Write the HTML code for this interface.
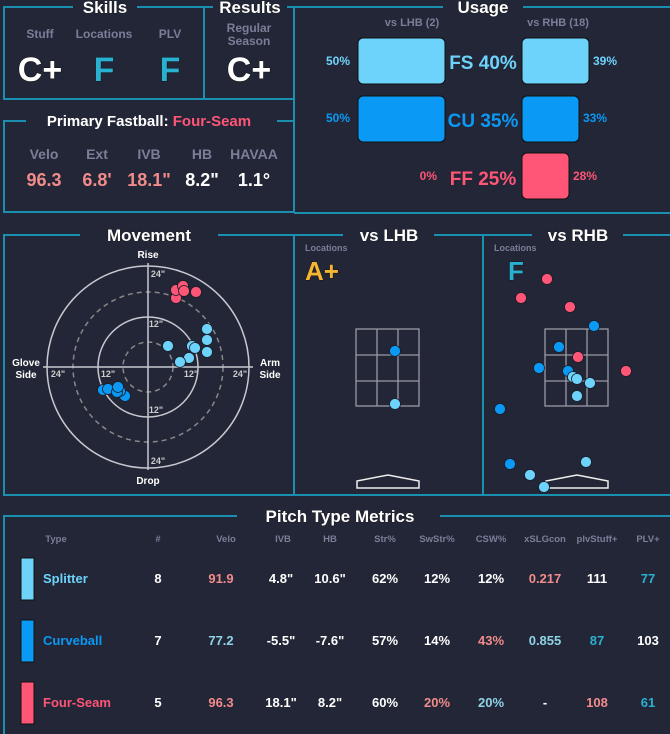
<!DOCTYPE html>
<html><head><meta charset="utf-8"><style>
html,body{margin:0;padding:0;background:#232636;}
svg{display:block;font-family:"Liberation Sans",sans-serif;font-weight:bold;}
</style></head><body>
<svg width="670" height="734" viewBox="0 0 670 734" xmlns="http://www.w3.org/2000/svg">
<rect width="670" height="734" fill="#232636"/>
<g stroke="#1a8fb0" stroke-width="2" fill="none">
<!-- skills -->
<polyline points="73,7 4,7 4,99 204,99 204,7 137,7"/>
<polyline points="204,7 213,7"/><polyline points="287,7 294,7"/>
<line x1="204" y1="99" x2="294" y2="99"/>
<!-- primary -->
<polyline points="26,121 4,121 4,212 294,212"/><line x1="277" y1="121" x2="294" y2="121"/>
<!-- usage -->
<line x1="294" y1="7" x2="294" y2="213"/><line x1="294" y1="7" x2="443" y2="7"/><line x1="523" y1="7" x2="670" y2="7"/>
<line x1="294" y1="213" x2="670" y2="213"/>
<!-- movement row -->
<polyline points="80,235 4,235 4,495 670,495"/><line x1="218" y1="235" x2="343" y2="235"/><line x1="434" y1="235" x2="532" y2="235"/><line x1="623" y1="235" x2="670" y2="235"/>
<line x1="294" y1="235" x2="294" y2="495"/><line x1="483" y1="235" x2="483" y2="495"/>
<!-- table -->
<polyline points="237,516 4,516 4,734"/><line x1="440" y1="516" x2="670" y2="516"/>
</g>
<g fill="#fff" text-anchor="middle" font-size="17" stroke="#111" stroke-width="0.6" paint-order="stroke">
<text x="105" y="13">Skills</text><text x="250" y="13">Results</text><text x="483" y="13">Usage</text>
<text x="149" y="241">Movement</text><text x="389" y="241">vs LHB</text><text x="578" y="241">vs RHB</text>
<text x="340" y="522">Pitch Type Metrics</text>
</g>
<g fill="#7a7f99" font-size="12" text-anchor="middle">
<text x="40" y="38">Stuff</text><text x="104" y="38">Locations</text><text x="170" y="38">PLV</text>
<text x="249" y="32">Regular</text><text x="249" y="45">Season</text>
<text x="44" y="159" font-size="14">Velo</text><text x="97" y="159" font-size="14">Ext</text><text x="149" y="159" font-size="14">IVB</text><text x="202" y="159" font-size="14">HB</text><text x="254" y="159" font-size="14">HAVAA</text>
<text x="412" y="26" font-size="11">vs LHB (2)</text><text x="558" y="26" font-size="11">vs RHB (18)</text>
</g>
<g font-size="34" text-anchor="middle" stroke="#111" stroke-width="1" paint-order="stroke">
<text x="40" y="81" fill="#fff">C+</text><text x="104" y="81" fill="#2ab0d0">F</text><text x="170" y="81" fill="#2ab0d0">F</text><text x="249" y="81" fill="#fff">C+</text>
</g>
<text x="149" y="126" font-size="15" text-anchor="middle" fill="#fff">Primary Fastball: <tspan fill="#ff5577">Four-Seam</tspan></text>
<g font-size="18" text-anchor="middle">
<text x="44" y="186" fill="#f28b8b">96.3</text><text x="97" y="186" fill="#f28b8b">6.8'</text><text x="149" y="186" fill="#f28b8b">18.1"</text><text x="202" y="186" fill="#fff">8.2"</text><text x="254" y="186" fill="#fff">1.1°</text>
</g>
<!-- usage bars -->
<g stroke="#111" stroke-width="1">
<rect x="358" y="38" width="87" height="46" rx="5" fill="#6dd3fb"/>
<rect x="522" y="38" width="67" height="46" rx="5" fill="#6dd3fb"/>
<rect x="358" y="96" width="87" height="46" rx="5" fill="#0a9af5"/>
<rect x="522" y="96" width="57" height="46" rx="5" fill="#0a9af5"/>
<rect x="522" y="153" width="47" height="46" rx="5" fill="#ff5577"/>
</g>
<g font-size="19" text-anchor="middle">
<text x="483" y="69" fill="#6dd3fb">FS 40%</text><text x="483" y="127" fill="#0a9af5">CU 35%</text><text x="483" y="185" fill="#ff5577">FF 25%</text>
</g>
<g font-size="12">
<text x="350" y="65" text-anchor="end" fill="#6dd3fb">50%</text><text x="593" y="65" fill="#6dd3fb">39%</text>
<text x="350" y="122" text-anchor="end" fill="#0a9af5">50%</text><text x="583" y="122" fill="#0a9af5">33%</text>
<text x="437" y="180" text-anchor="end" fill="#ff5577">0%</text><text x="573" y="180" fill="#ff5577">28%</text>
</g>
<!-- movement -->
<g stroke="#c8c8d0" fill="none" stroke-width="1.5">
<circle cx="148" cy="367" r="101"/><circle cx="148" cy="367" r="50"/>
<circle cx="148" cy="367" r="75" stroke-dasharray="5,4" stroke="#888"/><circle cx="148" cy="367" r="25" stroke-dasharray="5,4" stroke="#888"/>
<line x1="148" y1="263" x2="148" y2="470"/><line x1="43" y1="367" x2="253" y2="367"/>
</g>
<g fill="#ccc" font-size="9" text-anchor="middle">
<text x="158" y="277">24"</text><text x="156" y="327">12"</text><text x="156" y="413">12"</text><text x="158" y="464">24"</text>
<text x="58" y="377">24"</text><text x="108" y="377">12"</text><text x="191" y="377">12"</text><text x="240" y="377">24"</text>
</g>
<g fill="#fff" font-size="10" text-anchor="middle">
<text x="148" y="258">Rise</text><text x="148" y="484">Drop</text>
<text x="26" y="366">Glove</text><text x="26" y="378">Side</text><text x="270" y="366">Arm</text><text x="270" y="378">Side</text>
</g>
<g stroke="#1a1c28" stroke-width="0.8">
<g fill="#ff5577"><circle cx="176" cy="298" r="5.5"/><circle cx="176" cy="290" r="5.5"/><circle cx="183" cy="286" r="5.5"/><circle cx="184" cy="291" r="5.5"/><circle cx="196" cy="292" r="5.5"/></g>
<g fill="#6dd3fb"><circle cx="207" cy="329" r="5.5"/><circle cx="207" cy="340" r="5.5"/><circle cx="207" cy="352" r="5.5"/><circle cx="192" cy="346" r="5.5"/><circle cx="195" cy="348" r="5.5"/><circle cx="189" cy="358" r="5.5"/><circle cx="180" cy="362" r="5.5"/><circle cx="168" cy="346" r="5.5"/></g>
<g fill="#0a9af5"><circle cx="103" cy="390" r="5.5"/><circle cx="108" cy="389" r="5.5"/><circle cx="125" cy="396" r="5.5"/><circle cx="120" cy="391" r="5.5"/><circle cx="117" cy="392" r="5.5"/><circle cx="118" cy="387" r="5.5"/></g>
</g>
<!-- locations -->
<g fill="#7a7f99" font-size="9"><text x="305" y="251">Locations</text><text x="494" y="251">Locations</text></g>
<text x="305" y="280" font-size="26" fill="#f5b731" stroke="#111" stroke-width="0.8" paint-order="stroke">A+</text>
<text x="508" y="280" font-size="26" fill="#2ab0d0" stroke="#111" stroke-width="0.8" paint-order="stroke">F</text>
<g stroke="#9a9aa5" stroke-width="1.3" fill="none">
<rect x="356" y="329" width="63" height="77"/><line x1="377" y1="329" x2="377" y2="406"/><line x1="398" y1="329" x2="398" y2="406"/><line x1="356" y1="355" x2="419" y2="355"/><line x1="356" y1="381" x2="419" y2="381"/>
<rect x="545" y="329" width="63" height="77"/><line x1="566" y1="329" x2="566" y2="406"/><line x1="587" y1="329" x2="587" y2="406"/><line x1="545" y1="355" x2="608" y2="355"/><line x1="545" y1="381" x2="608" y2="381"/>
</g>
<g stroke="#eee" stroke-width="1.5" fill="none">
<polygon points="357,481 388,475 419,481 419,488 357,488"/>
<polygon points="546,481 577,475 608,481 608,488 546,488"/>
</g>
<g stroke="#1a1c28" stroke-width="0.8">
<circle cx="395" cy="351" r="5.5" fill="#0a9af5"/><circle cx="395" cy="404" r="5.5" fill="#6dd3fb"/>
<g fill="#ff5577"><circle cx="547" cy="279" r="5.5"/><circle cx="521" cy="298" r="5.5"/><circle cx="570" cy="307" r="5.5"/><circle cx="578" cy="357" r="5.5"/><circle cx="626" cy="371" r="5.5"/></g>
<g fill="#0a9af5"><circle cx="594" cy="326" r="5.5"/><circle cx="559" cy="347" r="5.5"/><circle cx="539" cy="368" r="5.5"/><circle cx="568" cy="371" r="5.5"/><circle cx="500" cy="409" r="5.5"/><circle cx="510" cy="464" r="5.5"/></g>
<g fill="#6dd3fb"><circle cx="573" cy="377" r="5.5"/><circle cx="577" cy="379" r="5.5"/><circle cx="590" cy="383" r="5.5"/><circle cx="577" cy="396" r="5.5"/><circle cx="586" cy="462" r="5.5"/><circle cx="530" cy="475" r="5.5"/><circle cx="544" cy="487" r="5.5"/></g>
</g>
<!-- table -->
<g fill="#7a7f99" font-size="9.5" text-anchor="middle">
<text x="56" y="542">Type</text><text x="158" y="542">#</text><text x="226" y="542">Velo</text><text x="283" y="542">IVB</text><text x="330" y="542">HB</text><text x="385" y="542">Str%</text><text x="437" y="542">SwStr%</text><text x="491" y="542">CSW%</text><text x="545" y="542">xSLGcon</text><text x="597" y="542">plvStuff+</text><text x="648" y="542">PLV+</text>
</g>
<g stroke="#111" stroke-width="1">
<rect x="21" y="558" width="13" height="42" fill="#6dd3fb"/><rect x="21" y="620" width="13" height="42" fill="#0a9af5"/><rect x="21" y="682" width="13" height="42" fill="#ff5577"/>
</g>
<g font-size="13" text-anchor="middle" fill="#fff">
<text x="43" y="583" text-anchor="start" fill="#6dd3fb">Splitter</text><text x="158" y="583">8</text><text x="221" y="583" fill="#f28b8b">91.9</text><text x="281" y="583">4.8"</text><text x="330" y="583">10.6"</text><text x="385" y="583">62%</text><text x="437" y="583">12%</text><text x="491" y="583">12%</text><text x="545" y="583" fill="#f28b8b">0.217</text><text x="597" y="583">111</text><text x="648" y="583" fill="#2ab0d0">77</text>
<text x="43" y="645" text-anchor="start" fill="#0a9af5">Curveball</text><text x="158" y="645">7</text><text x="221" y="645" fill="#8fd3e6">77.2</text><text x="281" y="645">-5.5"</text><text x="330" y="645">-7.6"</text><text x="385" y="645">57%</text><text x="437" y="645">14%</text><text x="491" y="645" fill="#f28b8b">43%</text><text x="545" y="645" fill="#8fd3e6">0.855</text><text x="597" y="645" fill="#2ab0d0">87</text><text x="648" y="645">103</text>
<text x="43" y="707" text-anchor="start" fill="#ff5577">Four-Seam</text><text x="158" y="707">5</text><text x="221" y="707" fill="#f28b8b">96.3</text><text x="281" y="707">18.1"</text><text x="330" y="707">8.2"</text><text x="385" y="707">60%</text><text x="437" y="707" fill="#f28b8b">20%</text><text x="491" y="707" fill="#8fd3e6">20%</text><text x="545" y="707">-</text><text x="597" y="707" fill="#f28b8b">108</text><text x="648" y="707" fill="#2ab0d0">61</text>
</g>
</svg>
</body></html>
